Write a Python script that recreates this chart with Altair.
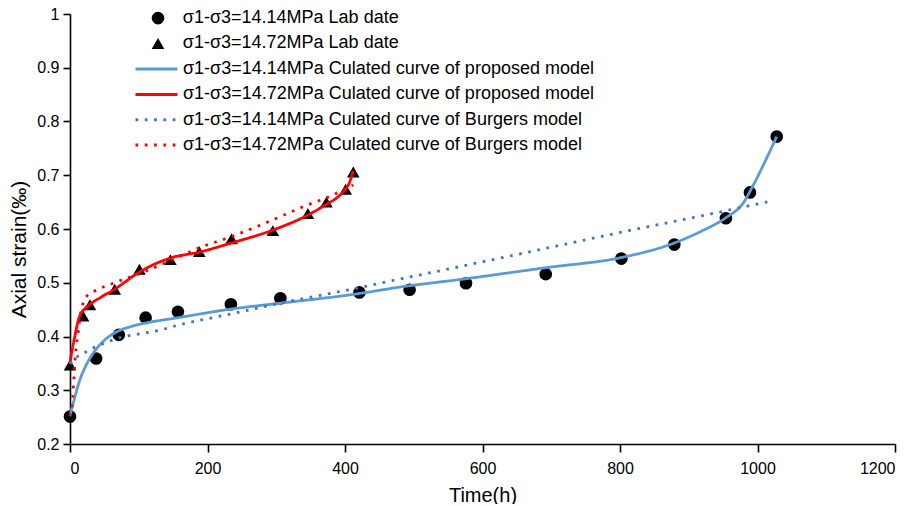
import altair as alt
import pandas as pd

# ---- series names ----
S_LAB_1414 = "σ1-σ3=14.14MPa Lab date"
S_LAB_1472 = "σ1-σ3=14.72MPa Lab date"
S_PRO_1414 = "σ1-σ3=14.14MPa Culated curve of proposed model"
S_PRO_1472 = "σ1-σ3=14.72MPa Culated curve of proposed model"
S_BUR_1414 = "σ1-σ3=14.14MPa Culated curve of Burgers model"
S_BUR_1472 = "σ1-σ3=14.72MPa Culated curve of Burgers model"

# ---- lab data ----
t_lab_1414 = [0, 38, 71, 110, 157, 234, 306, 421, 494, 576, 692, 802, 879, 954, 989, 1028]
e_lab_1414 = [0.251, 0.359, 0.403, 0.435, 0.446, 0.460, 0.471, 0.482, 0.487, 0.499,
              0.516, 0.545, 0.571, 0.620, 0.668, 0.772]
t_lab_1472 = [0, 19, 29, 65, 101, 146, 188, 235, 295, 346, 373, 401, 412]
e_lab_1472 = [0.347, 0.438, 0.459, 0.488, 0.525, 0.543, 0.558, 0.582, 0.597, 0.629,
              0.650, 0.674, 0.706]

# ---- proposed model curves ----
t_pro_1414 = [0, 7, 14, 24, 36, 50, 70, 90, 110, 157, 234, 306, 421, 480, 567, 692,
              802, 879, 920, 954, 979, 994, 1013, 1028]
e_pro_1414 = [0.252, 0.287, 0.318, 0.348, 0.373, 0.393, 0.410, 0.419, 0.425, 0.435,
              0.451, 0.462, 0.480, 0.492, 0.506, 0.528, 0.547, 0.574, 0.597, 0.621,
              0.648, 0.682, 0.731, 0.772]
t_pro_1472 = [0, 3, 7, 11, 16, 22, 29, 45, 65, 101, 146, 188, 235, 295, 346, 373,
              390, 400, 406, 412]
e_pro_1472 = [0.350, 0.375, 0.400, 0.425, 0.443, 0.452, 0.460, 0.473, 0.488, 0.520,
              0.546, 0.557, 0.574, 0.598, 0.626, 0.646, 0.660, 0.673, 0.685, 0.708]

# ---- Burgers model curves ----
t_bur_1414 = [0, 7, 19, 34, 53, 70, 97, 131, 157, 234, 306, 421, 480, 567, 692, 802,
              954, 1016]
e_bur_1414 = [0.349, 0.359, 0.368, 0.379, 0.389, 0.397, 0.404, 0.412, 0.421, 0.442,
              0.462, 0.491, 0.507, 0.530, 0.564, 0.594, 0.634, 0.651]
t_bur_1472 = [0, 4, 5.5, 7, 9, 12, 15, 19, 25, 35, 65, 101, 146, 188, 235, 295, 346,
              373, 412]
e_bur_1472 = [0.252, 0.287, 0.318, 0.350, 0.380, 0.408, 0.440, 0.462, 0.476, 0.484,
              0.500, 0.517, 0.541, 0.565, 0.586, 0.617, 0.645, 0.658, 0.682]

x_ticks = [0, 200, 400, 600, 800, 1000, 1200]
y_ticks = [0.2, 0.3, 0.4, 0.5, 0.6, 0.7, 0.8, 0.9, 1.0]

line_series = [S_PRO_1414, S_PRO_1472, S_BUR_1414, S_BUR_1472]
line_colors = ["#5B9BD5", "#FF0000", "#4472C4", "#FF0000"]
line_dashes = [[1, 0], [1, 0], [2.7, 6.6], [2.7, 6.6]]

# ---- tables ----
def frame(ts, es, name):
    return pd.DataFrame({"t": ts, "e": es, "series": name})

pts = pd.concat([frame(t_lab_1414, e_lab_1414, S_LAB_1414),
                 frame(t_lab_1472, e_lab_1472, S_LAB_1472)], ignore_index=True)
lines = pd.concat([frame(t_pro_1414, e_pro_1414, S_PRO_1414),
                   frame(t_pro_1472, e_pro_1472, S_PRO_1472),
                   frame(t_bur_1414, e_bur_1414, S_BUR_1414),
                   frame(t_bur_1472, e_bur_1472, S_BUR_1472)], ignore_index=True)

FONT = "Liberation Sans"

x_enc = alt.X("t:Q",
              scale=alt.Scale(domain=[0, 1200], nice=False),
              axis=alt.Axis(values=x_ticks, format="d", title="Time(h)", grid=False,
                            tickSize=8, labelPadding=21, labelBaseline="alphabetic",
                            titleY=57, titleBaseline="alphabetic"))
y_enc = alt.Y("e:Q",
              scale=alt.Scale(domain=[0.2, 1.0], nice=False, zero=False),
              axis=alt.Axis(values=y_ticks, format=".1~f", title="Axial strain(‰)",
                            grid=False, tickSize=7, labelPadding=4,
                            titleAngle=270, titleAlign="center", titleFontSize=21,
                            titleBaseline="alphabetic", titleX=-45, titleY=235))

pts_legend = alt.Legend(title=None, orient="none", legendX=79, legendY=-7.4,
                        direction="vertical", columns=1, padding=0,
                        symbolSize=160, clipHeight=23, rowPadding=2.3,
                        labelFont=FONT, labelFontSize=18, labelColor="black",
                        labelOffset=15.8, labelLimit=600)
line_legend = alt.Legend(title=None, orient="none", legendX=64, legendY=43.6,
                         direction="vertical", columns=1, padding=0,
                         symbolType="stroke", symbolSize=1764, symbolStrokeWidth=3,
                         clipHeight=23, rowPadding=2.3,
                         labelFont=FONT, labelFontSize=18, labelColor="black",
                         labelOffset=4, labelLimit=600)

points = alt.Chart(pts).mark_point(filled=True, size=160, opacity=1, color="black").encode(
    x=x_enc, y=y_enc,
    shape=alt.Shape("series:N",
                    scale=alt.Scale(domain=[S_LAB_1414, S_LAB_1472],
                                    range=["circle", "triangle-up"]),
                    legend=pts_legend),
)

curves = alt.Chart(lines).mark_line(strokeWidth=2.8, strokeCap="butt",
                                    interpolate="monotone").encode(
    x=x_enc, y=y_enc,
    color=alt.Color("series:N",
                    scale=alt.Scale(domain=line_series, range=line_colors),
                    legend=line_legend),
    strokeDash=alt.StrokeDash("series:N",
                              scale=alt.Scale(domain=line_series, range=line_dashes),
                              legend=line_legend),
    detail="series:N",
)

chart = alt.layer(points, curves).properties(
    width=825, height=430,
    autosize=alt.AutoSizeParams(type="none"),
    padding={"left": 62, "top": 6, "right": 18, "bottom": 60},
    background="white",
).configure_view(stroke=None).configure_axis(
    domainColor="black", domainWidth=1.6, tickColor="black", tickWidth=1.6,
    labelColor="black", labelFont=FONT, labelFontSize=16,
    titleColor="black", titleFont=FONT, titleFontSize=20, titleFontWeight="normal",
)

chart.save("out.html", embed_options={"renderer": "svg", "actions": False})
